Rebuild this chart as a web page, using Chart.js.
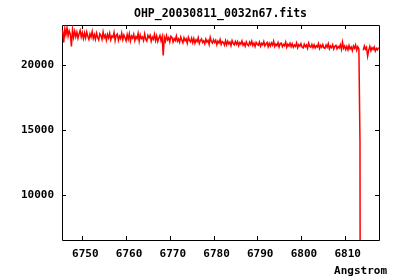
<!DOCTYPE html>
<html>
<head>
<meta charset="utf-8">
<title>OHP_20030811_0032n67.fits</title>
<script src="https://cdn.jsdelivr.net/npm/chart.js@4/dist/chart.umd.min.js"></script>
<style>
    html, body { margin: 0; padding: 0; background: #ffffff; }
    #spectrum { display: block; }
</style>
</head>
<body>
<canvas id="spectrum" width="400" height="280"></canvas>
<script>
// Dados do espectro
const TITLE = 'OHP_20030811_0032n67.fits';
const X_LABEL = 'Angstrom';
const WAVE_START = 6745.5;   // primeiro comprimento de onda (A)
const WAVE_STEP = 0.25;      // passo da amostragem (A)

const xTicks = [6750, 6760, 6770, 6780, 6790, 6800, 6810];
const yTicks = [10000, 15000, 20000];

// fluxo (null = pixel ruim, a linha é interrompida)
const flux = [
    22700, 21750, 22800, 22350, 22900, 22250, 22650, 22400, 21440, 22750,
    22150, 22620, 22200, 22550, 22080, 22400, 22680, 22180, 22500, 22050,
    22480, 22100, 22560, 22230, 21990, 22420, 22170, 22600, 22060, 22350,
    22000, 22470, 22150, 21950, 22420, 22280, 21980, 22560, 22120, 22330,
    21930, 22380, 22100, 22460, 21950, 22250, 22150, 22520, 21900, 22300,
    22400, 21920, 22230, 22050, 22470, 21980, 22330, 22110, 21880, 22360,
    22000, 22420, 21870, 22240, 22090, 22380, 21900, 22200, 22050, 22450,
    21850, 22330, 22060, 22180, 21900, 22420, 22010, 21860, 22300, 22120,
    22310, 21840, 22160, 22000, 22380, 21900, 22250, 21830, 22100, 22290,
    21880, 22200, 20740, 22150, 21850, 22280, 21950, 22120, 21800, 22230,
    22150, 21780, 22060, 21900, 22250, 21850, 22020, 21760, 22180, 21950,
    21720, 22120, 21880, 22030, 21700, 22160, 21920, 21800, 22080, 21730,
    22050, 21700, 21960, 21820, 22130, 21680, 21900, 22020, 21750, 21880,
    21650, 22010, 21780, 21920, 21600, 22150, 21830, 21700, 21960, 21750,
    21920, 21580, 21850, 21700, 21980, 21600, 21820, 21750, 21550, 21900,
    21580, 21850, 21640, 21780, 21500, 21900, 21680, 21560, 21830, 21620,
    21820, 21500, 21740, 21620, 21870, 21540, 21700, 21460, 21800, 21600,
    21500, 21780, 21600, 21850, 21520, 21700, 21430, 21760, 21620, 21540,
    21780, 21460, 21680, 21560, 21820, 21480, 21640, 21750, 21420, 21690,
    21470, 21720, 21550, 21850, 21440, 21630, 21510, 21740, 21400, 21660,
    21700, 21420, 21600, 21500, 21780, 21380, 21620, 21480, 21690, 21430,
    21650, 21380, 21560, 21450, 21720, 21340, 21590, 21470, 21660, 21400,
    21330, 21620, 21420, 21550, 21300, 21700, 21460, 21380, 21600, 21350,
    21580, 21320, 21500, 21400, 21660, 21280, 21530, 21380, 21600, 21330,
    21300, 21560, 21380, 21650, 21260, 21480, 21350, 21570, 21240, 21460,
    21530, 21250, 21440, 21330, 21580, 21220, 21780, 21300, 21480, 21200,
    21450, 21180, 21520, 21260, 21400, 21120, 21480, 21300, 21560, 21150,
    21420, 21250, 14100, -50000, null, 21150, 21480, 21230, 21380, 20700,
    21160, 21450, 21120, 21350, 21220, 21400, 21080, 21300, 21180, 21360
];

const FONT = { family: "'DejaVu Sans Mono', monospace", size: 11, weight: 'bold' };
const FONT_CSS = `bold ${FONT.size}px ${FONT.family}`;

// Moldura, marcas para dentro nos quatro lados (estilo gnuplot) e textos
const frameTicks = {
    id: 'frameTicks',
    beforeDatasetsDraw(chart) {
        const { ctx, chartArea: a, scales } = chart;
        const len = 4;
        ctx.save();
        ctx.strokeStyle = '#000000';
        ctx.lineWidth = 1;
        ctx.beginPath();
        ctx.rect(Math.round(a.left) + 0.5, Math.round(a.top) + 0.5,
                 Math.round(a.right - a.left), Math.round(a.bottom - a.top));
        xTicks.forEach(v => {
            const x = Math.round(scales.x.getPixelForValue(v)) + 0.5;
            ctx.moveTo(x, a.bottom); ctx.lineTo(x, a.bottom - len);
            ctx.moveTo(x, a.top); ctx.lineTo(x, a.top + len);
        });
        yTicks.forEach(v => {
            const y = Math.round(scales.y.getPixelForValue(v)) + 0.5;
            ctx.moveTo(a.left, y); ctx.lineTo(a.left + len, y);
            ctx.moveTo(a.right, y); ctx.lineTo(a.right - len, y);
        });
        ctx.stroke();
        ctx.restore();
    },
    afterDraw(chart) {
        const { ctx, chartArea: a } = chart;
        ctx.save();
        ctx.fillStyle = '#000000';
        ctx.textBaseline = 'middle';
        // título centrado sobre a área do gráfico
        ctx.font = `bold 11.5px ${FONT.family}`;
        ctx.textAlign = 'center';
        ctx.fillText(TITLE, (a.left + a.right) / 2, 14.5);
        // rótulo do eixo x, encostado à direita
        ctx.font = FONT_CSS;
        ctx.textAlign = 'right';
        ctx.fillText(X_LABEL, 387, 271);
        ctx.restore();
    }
};

const points = flux.map((f, i) => ({ x: WAVE_START + i * WAVE_STEP, y: f }));

new Chart(document.getElementById('spectrum'), {
    type: 'line',
    data: {
        datasets: [{
            data: points,
            borderColor: '#ff0000',
            borderWidth: 1.5,
            pointRadius: 0,
            tension: 0,
            fill: false,
            spanGaps: false
        }]
    },
    options: {
        responsive: false,
        animation: false,
        devicePixelRatio: 1,
        layout: { padding: { left: 0, right: 21, top: 25, bottom: 0 } },
        plugins: {
            legend: { display: false },
            tooltip: { enabled: false },
            title: { display: false }
        },
        scales: {
            x: {
                type: 'linear',
                position: 'bottom',
                min: 6745.35,
                max: 6817.85,
                grid: { display: false, drawTicks: false },
                border: { display: false },
                afterBuildTicks: scale => { scale.ticks = xTicks.map(v => ({ value: v })); },
                afterFit: scale => { scale.height = 40; },
                ticks: {
                    color: '#000000',
                    font: FONT,
                    padding: 8,
                    labelOffset: 3,
                    maxRotation: 0,
                    autoSkip: false,
                    callback: v => String(v)
                }
            },
            y: {
                type: 'linear',
                min: 6500,
                max: 23100,
                grid: { display: false, drawTicks: false },
                border: { display: false },
                afterBuildTicks: scale => { scale.ticks = yTicks.map(v => ({ value: v })); },
                afterFit: scale => { scale.width = 62; },
                ticks: {
                    color: '#000000',
                    font: FONT,
                    padding: 8,
                    autoSkip: false,
                    callback: v => String(v)
                }
            }
        }
    },
    plugins: [frameTicks]
});
</script>
</body>
</html>
